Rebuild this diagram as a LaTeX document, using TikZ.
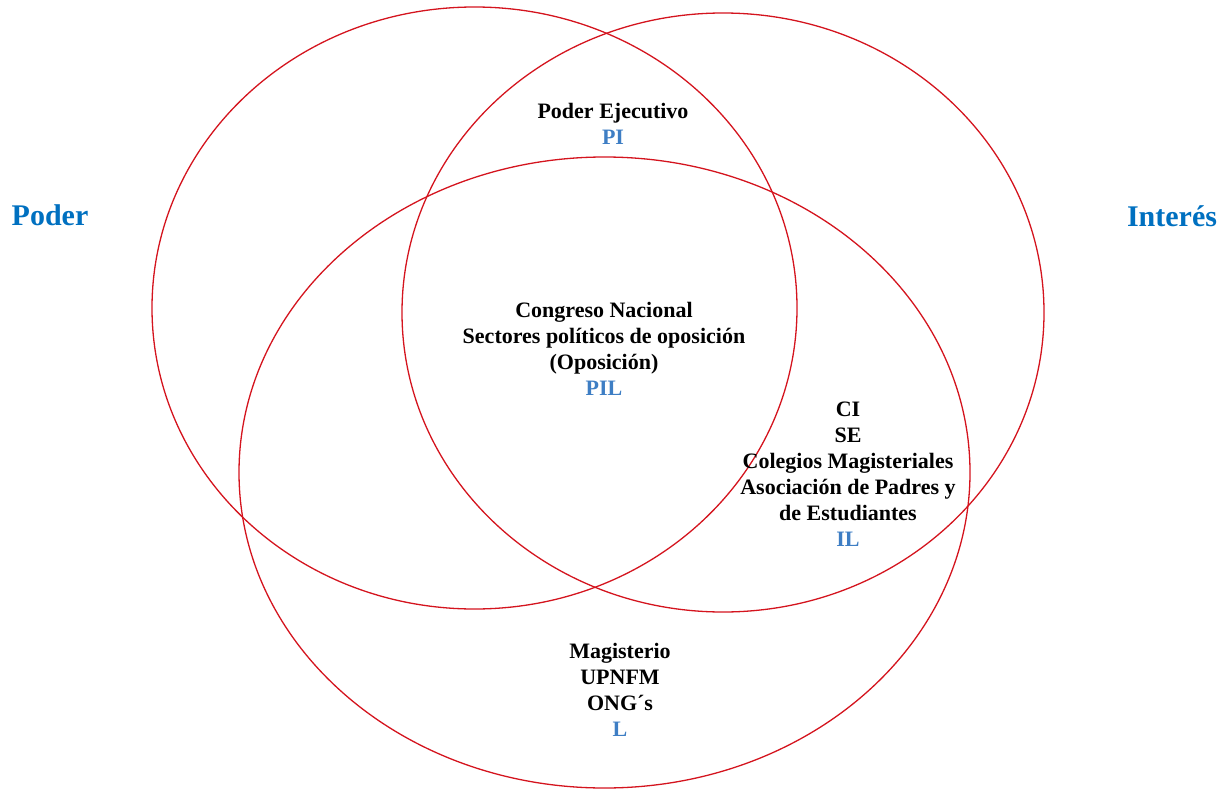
\documentclass[tikz,border=0pt]{standalone}
\usepackage{fontspec}
\setmainfont{Liberation Serif}
\definecolor{vennred}{RGB}{212,20,30}
\definecolor{lblblue}{RGB}{62,126,196}
\definecolor{titleblue}{RGB}{0,112,192}
\begin{document}
\begin{tikzpicture}[x=1pt,y=-1pt,
  ring/.style={draw=vennred,line width=1.3pt},
  txt/.style={align=center,inner sep=0pt,font=\fontsize{22}{26}\selectfont\bfseries},
  title/.style={inner sep=0pt,text=titleblue,font=\fontsize{30}{34}\selectfont\bfseries}]
\useasboundingbox (0,0) rectangle (1231,789);
% ellipses
\draw[ring] (474.5,308) ellipse [x radius=322.5pt, y radius=301pt];
\draw[ring] (723,312.5) ellipse [x radius=321pt, y radius=299.5pt];
\draw[ring] (604.5,472.5) ellipse [x radius=365.5pt, y radius=315.5pt];
% titles
\node[title] (poder) at (50,215) {Poder};
\node[title] (interes) at (1172,216) {Interés};
% region texts
\node[txt] (pi) at (613,124) {Poder Ejecutivo\\\textcolor{lblblue}{PI}};
\node[txt] (pil) at (604,348.5) {Congreso Nacional\\Sectores políticos de oposición\\(Oposición)\\\textcolor{lblblue}{PIL}};
\node[txt] (il) at (848,474) {CI\\SE\\Colegios Magisteriales\\Asociación de Padres y\\de Estudiantes\\\textcolor{lblblue}{IL}};
\node[txt] (l) at (620,689.5) {Magisterio\\UPNFM\\ONG´s\\\textcolor{lblblue}{L}};
\end{tikzpicture}
\end{document}
